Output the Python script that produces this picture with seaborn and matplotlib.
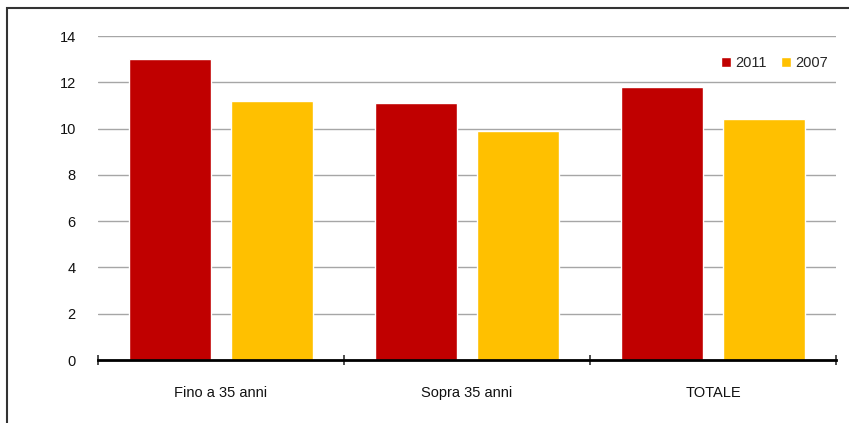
import numpy as np
import pandas as pd
import seaborn as sns
import matplotlib.pyplot as plt
from matplotlib.patches import Rectangle
from matplotlib.ticker import FixedLocator

categories = ['Fino a 35 anni', 'Sopra 35 anni', 'TOTALE']
values_2011 = [13.0, 11.1, 11.8]
values_2007 = [11.2, 9.9, 10.4]
years = ['2011', '2007']
colors = ['#C00000', '#FFC000']

df = pd.DataFrame({
    'Categoria': categories * 2,
    'Anno': [years[0]] * 3 + [years[1]] * 3,
    'Valore': values_2011 + values_2007,
})

sns.set_style('white')
plt.rcParams['font.family'] = ['Liberation Sans', 'DejaVu Sans']

fig = plt.figure(figsize=(8.49, 4.23), dpi=100)
ax = fig.add_axes([98 / 849, 1 - 360 / 423, 738 / 849, 324 / 423])

sns.barplot(data=df, x='Categoria', y='Valore', hue='Anno', palette=colors,
            width=0.83, gap=0.2, saturation=1, ax=ax, zorder=3)

ax.set_ylim(0, 14)
ax.set_xlim(-0.5, 2.5)
ax.set_yticks(np.arange(0, 15, 2))
ax.grid(axis='y', color='#A6A6A6', linewidth=1.0, zorder=0)
ax.set_axisbelow(True)
for s in ['left', 'right', 'top']:
    ax.spines[s].set_visible(False)
ax.spines['bottom'].set_color('black')
ax.spines['bottom'].set_linewidth(2)
ax.spines['bottom'].set_zorder(4)

fs = 10.5
ax.tick_params(axis='y', length=0, pad=16, labelsize=fs, labelcolor='#111111')
ax.tick_params(axis='x', which='major', length=0, pad=19, labelsize=fs, labelcolor='#111111')
ax.xaxis.set_minor_locator(FixedLocator([-0.5, 0.5, 1.5, 2.5]))
ax.tick_params(axis='x', which='minor', bottom=True, length=7, width=1.3,
               color='#404040', direction='inout')
ax.set_xlabel('')
ax.set_ylabel('')

ax.legend(loc='center right', bbox_to_anchor=(0.997, 0.917), ncol=2, frameon=False,
          fontsize=fs, handlelength=0.68, handleheight=0.68, handletextpad=0.27,
          columnspacing=1.0, borderaxespad=0)

fig.add_artist(Rectangle((7 / 849, -0.1), 1.2, 1.1 - 8 / 423, fill=False,
                         edgecolor='#333333', linewidth=1.5,
                         transform=fig.transFigure, clip_on=False))

fig.savefig('out.png', dpi=100)
